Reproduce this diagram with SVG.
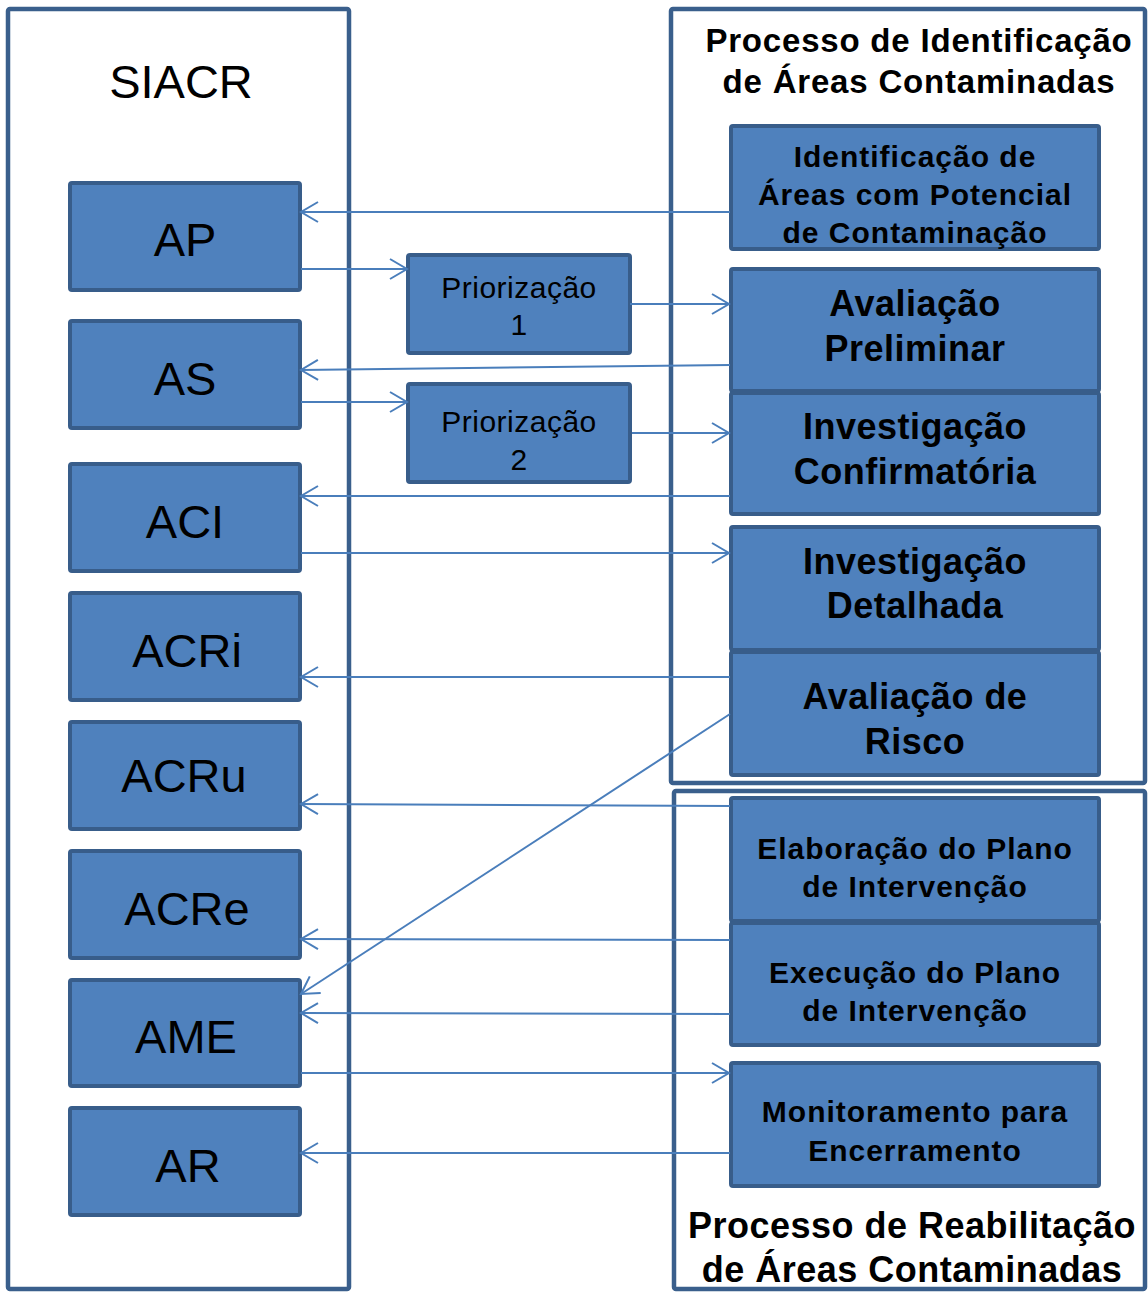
<svg xmlns="http://www.w3.org/2000/svg" width="1148" height="1292" viewBox="0 0 1148 1292">
<defs>
<style>
.frame{fill:#ffffff;stroke:#3A5F8C;stroke-width:4.5}
.box{fill:#4F81BD;stroke:#385D8A;stroke-width:4}
.con{fill:none;stroke:#4A7EBB;stroke-width:2}
text{font-family:"Liberation Sans",Arial,sans-serif;fill:#000;text-anchor:middle}
.lbl{font-size:47px}
.pri{font-size:30px;letter-spacing:0.5px}
.big{font-size:36px;font-weight:bold;letter-spacing:0.5px}
.mid{font-size:30px;font-weight:bold;letter-spacing:1px}
.ttl{font-size:33px;font-weight:bold;letter-spacing:0.8px}
.ttl2{font-size:36px;font-weight:bold;letter-spacing:0.5px}
</style>
<marker id="arr" markerUnits="userSpaceOnUse" markerWidth="40" markerHeight="40" viewBox="-20 -20 40 40" refX="0" refY="0" orient="auto" overflow="visible">
<path d="M-17,-10 L0,0 L-17,10" fill="none" stroke="#4A7EBB" stroke-width="2"/>
</marker>
</defs>

<g id="siacr">
<rect class="frame" x="8" y="9" width="341" height="1280" rx="2"/>
<text x="181" y="98" style="font-size:47px">SIACR</text>
</g>
<g id="proc-ident">
<rect class="frame" x="671" y="9" width="474" height="774" rx="2"/>
<text class="ttl" x="919" y="52">Processo de Identificação</text>
<text class="ttl" x="919" y="93">de Áreas Contaminadas</text>
</g>
<g id="proc-reab">
<rect class="frame" x="674" y="791" width="471" height="498" rx="2"/>
<text class="ttl2" x="912" y="1238">Processo de Reabilitação</text>
<text class="ttl2" x="912" y="1282">de Áreas Contaminadas</text>
</g>

<g id="AP"><rect class="box" x="70" y="183" width="230" height="107" rx="2"/><text class="lbl" x="185" y="256">AP</text></g>
<g id="AS"><rect class="box" x="70" y="321" width="230" height="107" rx="2"/><text class="lbl" x="185" y="395">AS</text></g>
<g id="ACI"><rect class="box" x="70" y="464" width="230" height="107" rx="2"/><text class="lbl" x="185" y="538">ACI</text></g>
<g id="ACRi"><rect class="box" x="70" y="593" width="230" height="107" rx="2"/><text class="lbl" x="187" y="667">ACRi</text></g>
<g id="ACRu"><rect class="box" x="70" y="722" width="230" height="107" rx="2"/><text class="lbl" x="184" y="792">ACRu</text></g>
<g id="ACRe"><rect class="box" x="70" y="851" width="230" height="107" rx="2"/><text class="lbl" x="187" y="925">ACRe</text></g>
<g id="AME"><rect class="box" x="70" y="980" width="230" height="106" rx="2"/><text class="lbl" x="186" y="1053">AME</text></g>
<g id="AR"><rect class="box" x="70" y="1108" width="230" height="107" rx="2"/><text class="lbl" x="188" y="1182">AR</text></g>

<g id="prior1"><rect class="box" x="408" y="255" width="222" height="98" rx="2"/><text class="pri" x="519" y="298">Priorização</text><text class="pri" x="519" y="335">1</text></g>
<g id="prior2"><rect class="box" x="408" y="384" width="222" height="98" rx="2"/><text class="pri" x="519" y="432">Priorização</text><text class="pri" x="519" y="470">2</text></g>

<g id="ident"><rect class="box" x="731" y="126" width="368" height="123" rx="2"/>
<text class="mid" x="915" y="167">Identificação de</text><text class="mid" x="915" y="205">Áreas com Potencial</text><text class="mid" x="915" y="243">de Contaminação</text></g>
<g id="aval-prel"><rect class="box" x="731" y="269" width="368" height="122" rx="2"/>
<text class="big" x="915" y="316">Avaliação</text><text class="big" x="915" y="361">Preliminar</text></g>
<g id="inv-conf"><rect class="box" x="731" y="393" width="368" height="121" rx="2"/>
<text class="big" x="915" y="439">Investigação</text><text class="big" x="915" y="484">Confirmatória</text></g>
<g id="inv-det"><rect class="box" x="731" y="527" width="368" height="123" rx="2"/>
<text class="big" x="915" y="574">Investigação</text><text class="big" x="915" y="618">Detalhada</text></g>
<g id="aval-risco"><rect class="box" x="731" y="652" width="368" height="123" rx="2"/>
<text class="big" x="915" y="709">Avaliação de</text><text class="big" x="915" y="754">Risco</text></g>
<g id="elab"><rect class="box" x="731" y="798" width="368" height="123" rx="2"/>
<text class="mid" x="915" y="859">Elaboração do Plano</text><text class="mid" x="915" y="897">de Intervenção</text></g>
<g id="exec"><rect class="box" x="731" y="923" width="368" height="122" rx="2"/>
<text class="mid" x="915" y="983">Execução do Plano</text><text class="mid" x="915" y="1021">de Intervenção</text></g>
<g id="monit"><rect class="box" x="731" y="1063" width="368" height="123" rx="2"/>
<text class="mid" x="915" y="1122">Monitoramento para</text><text class="mid" x="915" y="1161">Encerramento</text></g>

<g id="connectors">
<line class="con" x1="730" y1="212" x2="301" y2="212" marker-end="url(#arr)"/>
<line class="con" x1="301" y1="269" x2="407" y2="269" marker-end="url(#arr)"/>
<line class="con" x1="630" y1="304" x2="729" y2="304" marker-end="url(#arr)"/>
<line class="con" x1="730" y1="365" x2="301" y2="370" marker-end="url(#arr)"/>
<line class="con" x1="301" y1="402" x2="407" y2="402" marker-end="url(#arr)"/>
<line class="con" x1="632" y1="433" x2="729" y2="433" marker-end="url(#arr)"/>
<line class="con" x1="730" y1="496" x2="301" y2="496" marker-end="url(#arr)"/>
<line class="con" x1="301" y1="553" x2="729" y2="553" marker-end="url(#arr)"/>
<line class="con" x1="730" y1="677" x2="301" y2="677" marker-end="url(#arr)"/>
<line class="con" x1="730" y1="714" x2="301" y2="994" marker-end="url(#arr)"/>
<line class="con" x1="730" y1="806" x2="301" y2="804" marker-end="url(#arr)"/>
<line class="con" x1="730" y1="940" x2="301" y2="939" marker-end="url(#arr)"/>
<line class="con" x1="730" y1="1014" x2="301" y2="1013" marker-end="url(#arr)"/>
<line class="con" x1="301" y1="1073" x2="729" y2="1073" marker-end="url(#arr)"/>
<line class="con" x1="730" y1="1153" x2="301" y2="1153" marker-end="url(#arr)"/>
</g>
</svg>
